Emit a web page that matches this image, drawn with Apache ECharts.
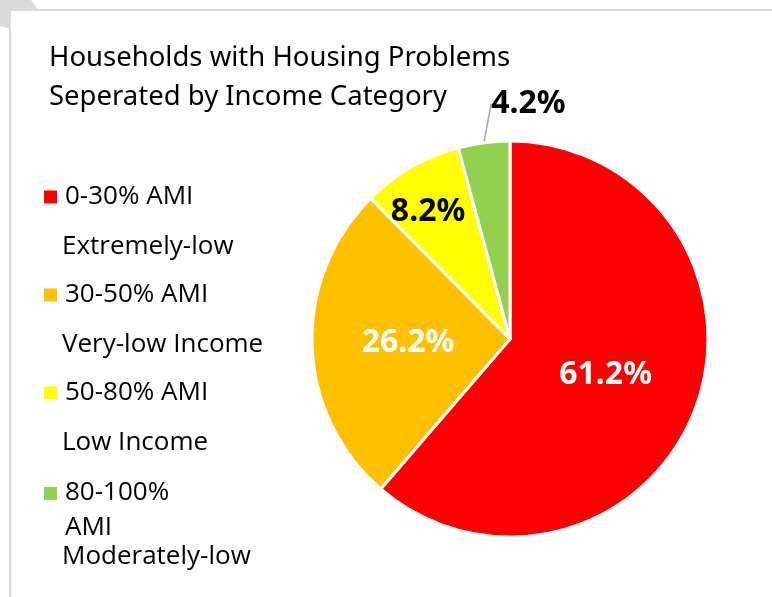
<!DOCTYPE html>
<html lang="en">
  <head>
    <meta charset="UTF-8" />
    <script src="https://cdn.jsdelivr.net/npm/echarts@6/dist/echarts.min.js"></script>
    <title>Housing Problems</title>
    <style>
      html,
      body,
      #chart {
        width: 100%;
        height: 100%;
        margin: 0;
        padding: 0;
        overflow: hidden;
        background: #fff;
      }
    </style>
  </head>
  <body>
    <div id="chart"></div>
    <script>
      const categories = ["0-30% AMI", "30-50% AMI", "50-80% AMI", "80-100%"];
      const subLines = [["Extremely-low"], ["Very-low Income"], ["Low Income"], ["AMI", "Moderately-low"]];
      const shares = [61.2, 26.2, 8.2, 4.2];
      const colors = ["#FF0000", "#FFC000", "#FFFF00", "#92D050"];
      const labelColors = ["#fff", "#fff", "#000", "#000"];

      const font = '"Noto Sans", sans-serif';

      const chart = echarts.init(document.getElementById("chart"));

      // legend text: blank line on top so the marker sits on the first line
      function legendText(name) {
        const i = categories.indexOf(name);
        if (i < 3) {
          return "{s| }\n{a|" + name + "}\n{b|" + subLines[i][0] + "}";
        }
        return "{t| }\n{c|" + name + "}\n{d|" + subLines[i][0] + "}\n{e|" + subLines[i][1] + "}";
      }

      const option = {
        backgroundColor: "#fff",
        title: {
          text: "Households with Housing Problems\nSeperated by Income Category",
          left: 44,
          top: 34,
          textStyle: {
            fontFamily: font,
            fontWeight: "normal",
            fontSize: 27.5,
            lineHeight: 38.5,
            color: "#000",
          },
        },
        legend: {
          orient: "vertical",
          left: 44,
          top: 122,
          padding: 0,
          itemGap: -52,
          itemWidth: 13,
          itemHeight: 13,
          icon: "rect",
          itemStyle: { borderWidth: 0 },
          selectedMode: false,
          formatter: legendText,
          textStyle: {
            fontFamily: "Open Sans",
            fontSize: 26,
            color: "#000",
            lineHeight: 50,
            rich: {
              s: { lineHeight: 50, fontSize: 26 },
              a: { lineHeight: 50, fontSize: 26, padding: [0, 0, 0, 3], fontFamily: "Open Sans" },
              b: { lineHeight: 50, fontSize: 26, fontFamily: "Open Sans" },
              t: { lineHeight: 57, fontSize: 26 },
              c: { lineHeight: 40, fontSize: 26, padding: [0, 0, 0, 3], fontFamily: "Open Sans" },
              d: { lineHeight: 30, fontSize: 26, padding: [0, 0, 0, 3], fontFamily: "Open Sans" },
              e: { lineHeight: 28, fontSize: 26, fontFamily: "Open Sans" },
            },
          },
          data: categories,
        },
        series: [
          {
            type: "pie",
            center: [510, 339],
            radius: [0, 198],
            startAngle: 90,
            clockwise: true,
            avoidLabelOverlap: false,
            itemStyle: { borderColor: "#fff", borderWidth: 3 },
            label: {
              position: "inside",
              formatter: (p) => p.value.toFixed(1) + "%",
              fontFamily: font,
              fontWeight: "bold",
              fontSize: 32,
            },
            labelLine: { show: false },
            labelLayout: function (p) {
              if (p.dataIndex === 2) return { dx: -31, dy: -39 };
              if (p.dataIndex === 3) {
                return {
                  x: p.rect.x + p.rect.width + 17,
                  y: p.rect.y - 36,
                  align: "center",
                  verticalAlign: "middle",
                };
              }
            },
            emphasis: { disabled: true },
            data: categories.map((name, i) => ({
              name: name,
              value: shares[i],
              itemStyle: { color: colors[i] },
              label: Object.assign(
                { color: labelColors[i] },
                i === 3 ? { position: "outside" } : {}
              ),
              labelLine:
                i === 3
                  ? { show: true, length: 12, length2: 0, lineStyle: { color: "#a6a6a6", width: 1.5 } }
                  : { show: false },
            })),
          },
        ],
        graphic: [
          {
            type: "polygon",
            silent: true,
            shape: { points: [[0, 0], [31, 0], [38, 10], [10, 10], [10, 29], [0, 26]] },
            style: { fill: "#d9d9d9" },
          },
          {
            type: "rect",
            silent: true,
            shape: { x: 9, y: 9, width: 800, height: 2 },
            style: { fill: "#d9d9d9" },
          },
          {
            type: "rect",
            silent: true,
            shape: { x: 9, y: 9, width: 2, height: 600 },
            style: { fill: "#d9d9d9" },
          },
        ],
      };
      chart.setOption(option);
    </script>
  </body>
</html>
